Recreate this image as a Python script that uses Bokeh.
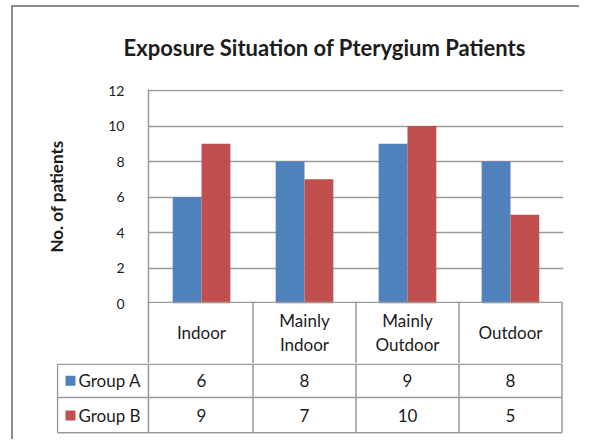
from bokeh.plotting import figure
from bokeh.models import Range1d, FactorRange, FixedTicker, ColumnDataSource
from bokeh.transform import dodge
from bokeh.core.properties import value
from bokeh.embed import file_html
from bokeh.resources import INLINE

# ---- data ----
categories = ["Indoor", "Mainly Indoor", "Mainly Outdoor", "Outdoor"]
series_names = ["Group A", "Group B"]
group_a = [6, 8, 9, 8]
group_b = [9, 7, 10, 5]
y_ticks = [0, 2, 4, 6, 8, 10, 12]

# ---- style / layout constants ----
BLUE = "#4F81BD"
RED = "#C0504D"
GRID = "#9a9a9a"
FRAME_C = "#8c8c8c"
TEXT = "#1c1c1c"
FONT = "Lato"
BAR_W = 0.28
CELL = 103.0                 # px per category column
PAD = 0.015                  # category-range padding (units)
Y_TOP = 12.06
HEADER_H = 62                # category header row height (px)
AXIS_X = 149.5               # page x of category position 0
n = len(categories)

# ---- bar chart ----
src = ColumnDataSource(dict(cat=categories, a=group_a, b=group_b))

p = figure(x_range=FactorRange(*categories, range_padding=PAD,
                               range_padding_units="absolute"),
           y_range=Range1d(0, Y_TOP),
           width=568, height=81 + 215 + HEADER_H,
           min_border_left=135, min_border_right=18,
           min_border_top=81, min_border_bottom=HEADER_H,
           x_axis_location=None, output_backend="svg",
           toolbar_location=None, tools="",
           styles={"margin-left": "11px", "margin-top": "5px",
                   "border-left": "2px solid " + FRAME_C,
                   "border-top": "2px solid " + FRAME_C})
p.vbar(x=dodge("cat", -BAR_W / 2, range=p.x_range), top="a", width=BAR_W,
       source=src, fill_color=BLUE, line_color=None)
p.vbar(x=dodge("cat", BAR_W / 2, range=p.x_range), top="b", width=BAR_W,
       source=src, fill_color=RED, line_color=None)

p.outline_line_color = None
p.xgrid.visible = False
p.ygrid.ticker = FixedTicker(ticks=y_ticks[1:])   # the 0 line is the table's top edge
p.ygrid.grid_line_color = GRID
p.ygrid.grid_line_width = 1.5

ax = p.yaxis[0]
ax.ticker = FixedTicker(ticks=y_ticks)
ax.axis_line_color = GRID
ax.axis_line_width = 1.5
ax.major_tick_line_color = None
ax.minor_tick_line_color = None
ax.major_label_standoff = 18
ax.major_label_text_font = FONT
ax.major_label_text_font_size = "14px"
ax.major_label_text_color = TEXT
ax.axis_label = "No. of patients"
ax.axis_label_text_font = FONT
ax.axis_label_text_font_size = "17px"
ax.axis_label_text_font_style = "bold"
ax.axis_label_text_color = TEXT
ax.axis_label_standoff = 38

p.title.text = "Exposure Situation of Pterygium Patients"
p.title.align = "left"
p.title.vertical_align = "top"
p.title.offset = -25
p.title.standoff = 53
p.title.text_font = FONT
p.title.text_font_size = "22px"
p.title.text_font_style = "bold"
p.title.text_color = TEXT

# ---- table header row (category names), laid over the chart's bottom border ----
H_LEFT_PX = 146
hx_lo = -(AXIS_X - H_LEFT_PX) / CELL
h = figure(x_range=Range1d(hx_lo, hx_lo + 417 / CELL), y_range=Range1d(HEADER_H, 0),
           width=417, height=HEADER_H,
           min_border_left=0, min_border_right=0,
           min_border_top=0, min_border_bottom=0,
           x_axis_location=None, y_axis_location=None,
           output_backend="svg", toolbar_location=None, tools="",
           styles={"margin-left": "%dpx" % H_LEFT_PX,
                   "margin-top": "-%dpx" % HEADER_H})
h.grid.visible = False
h.outline_line_color = None
h.border_fill_color = None
h.background_fill_color = None

hv_x = [-PAD] + list(range(1, n + 1))
h.segment(x0=[-PAD] + hv_x, y0=[0.75] + [0] * len(hv_x),
          x1=[n] + hv_x, y1=[0.75] + [HEADER_H] * len(hv_x),
          line_color=GRID, line_width=1.5)
cx = [i + 0.5 for i in range(n)]
h.text(x=cx, y=[HEADER_H / 2] * n,
       text=[c.replace(" ", "\n") for c in categories],
       text_align="center", text_baseline="middle", text_font=value(FONT),
       text_font_size="17px", text_color=TEXT, text_line_height=1.12)

# ---- table series rows ----
ROWS_H = 76
ROW_EDGES = [0.75, 34, 69.25]
LEFT = -(AXIS_X - 57) / CELL          # legend column left edge (category units)
x_lo = -(AXIS_X - 56) / CELL
x_hi = x_lo + (568 - 43 - 18) / CELL

t = figure(x_range=Range1d(x_lo, x_hi), y_range=Range1d(ROWS_H, 0),
           width=568, height=ROWS_H,
           min_border_left=43, min_border_right=18,
           min_border_top=0, min_border_bottom=0,
           x_axis_location=None, y_axis_location=None,
           output_backend="svg", toolbar_location=None, tools="",
           styles={"margin-left": "11px",
                   "border-left": "2px solid " + FRAME_C})
t.grid.visible = False
t.outline_line_color = None

v_x = [LEFT, -PAD] + list(range(1, n + 1))
t.segment(x0=[LEFT] * 3 + v_x, y0=ROW_EDGES + [0.75] * len(v_x),
          x1=[n] * 3 + v_x, y1=ROW_EDGES + [69.25] * len(v_x),
          line_color=GRID, line_width=1.5)

row_y = [17.2, 52]
for vals, yy in zip([group_a, group_b], row_y):
    t.text(x=cx, y=[yy] * n, text=[str(v) for v in vals],
           text_align="center", text_baseline="middle", text_font=value(FONT),
           text_font_size="17px", text_color=TEXT)

t.scatter(x=[-(AXIS_X - 70) / CELL] * 2, y=row_y, marker="square", size=10,
          fill_color=[BLUE, RED], line_color=None)
t.text(x=[-(AXIS_X - 78) / CELL] * 2, y=row_y, text=series_names,
       text_align="left", text_baseline="middle", text_font=value(FONT),
       text_font_size="17px", text_color=TEXT)

open("out.html", "w").write(file_html([p, h, t], INLINE))
